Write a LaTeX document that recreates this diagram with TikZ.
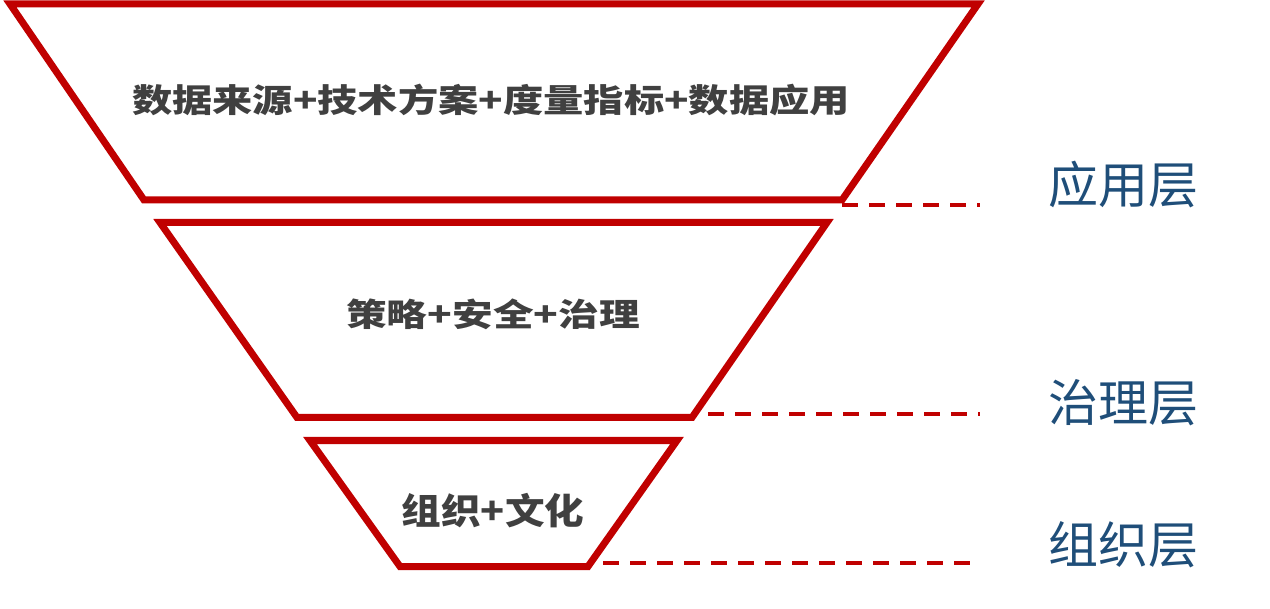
\documentclass[tikz,border=0pt]{standalone}
\usepackage{fontspec}
\setmainfont{Noto Sans CJK SC}
\usetikzlibrary{positioning}
\definecolor{funnelred}{HTML}{C00000}
\definecolor{textgray}{HTML}{404040}
\definecolor{layerblue}{HTML}{1F4E79}

\begin{document}
\begin{tikzpicture}
        [
        x=0.5pt, y=-0.5pt,
        funnel/.style={draw=funnelred, line width=3.5pt, line join=miter},
        dashline/.style={draw=funnelred, line width=2pt, dash pattern=on 8pt off 5.5pt},
        content/.style={text=textgray, font=\bfseries, transform shape},
        layer/.style={text=layerblue, font=\fontsize{25pt}{29pt}\selectfont, anchor=center}
        ]
        \useasboundingbox (0,0) rectangle (1270,609);
        % Funnel parts
        \draw[funnel] (10,4) -- (978,4) -- (842,200) -- (144,200) -- cycle;
        \draw[funnel] (160,222.5) -- (827,222.5) -- (692,417.5) -- (297,417.5) -- cycle;
        \draw[funnel] (310,440.5) -- (677,440.5) -- (588,566.5) -- (400,566.5) -- cycle;
        % Texts inside the funnel
        \node[content, xscale=1.235, font=\bfseries\fontsize{16.3pt}{19pt}\selectfont] (app) at (491,100) {数据来源+技术方案+度量指标+数据应用};
        \node[content, xscale=1.27, font=\bfseries\fontsize{16pt}{19pt}\selectfont] (gov) at (493,314) {策略+安全+治理};
        \node[content, xscale=1.1, font=\bfseries\fontsize{18pt}{21pt}\selectfont] (org) at (493,511) {组织+文化};
        % Layer names
        \node[layer] (applayer) at (1123,185) {应用层};
        \node[layer] (govlayer) at (1123,403) {治理层};
        \node[layer] (orglayer) at (1123,545) {组织层};
        % Dashed guide lines
        \coordinate (a1) at (842,205.5);
        \coordinate (a2) at (980,205.5);
        \coordinate (g1) at (708,414.5);
        \coordinate (g2) at (980,414.5);
        \coordinate (o1) at (603,563);
        \coordinate (o2) at (972,563);
        \draw[dashline] (a1) -- (a2);
        \draw[dashline] (g1) -- (g2);
        \draw[dashline] (o1) -- (o2);
    \end{tikzpicture}
\end{document}
